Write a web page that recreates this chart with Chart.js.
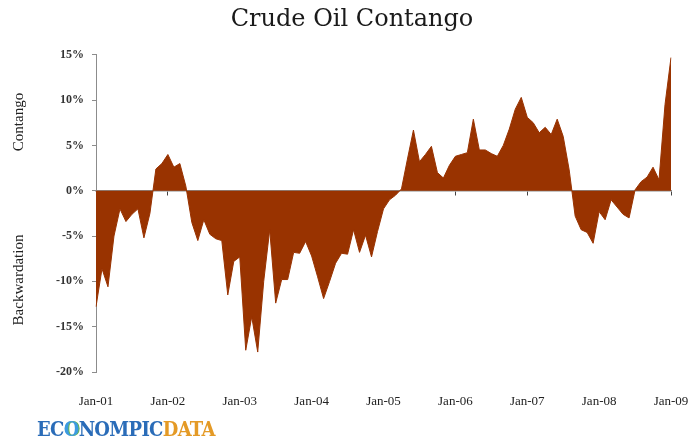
<!DOCTYPE html>
<html>
<head>
<meta charset="utf-8">
<script src="https://cdn.jsdelivr.net/npm/chart.js@4/dist/chart.umd.min.js"></script>
<style>
  body { margin: 0; background: #fff; }
  #contenedor { position: relative; width: 694px; height: 445px; }
  #logo {
    position: absolute; left: 37px; top: 418px;
    font-family: "DejaVu Serif Condensed", "DejaVu Serif", serif;
    font-weight: bold; font-size: 20px; line-height: 22px; letter-spacing: -0.7px;
    color: #2a6cb8;
  }
  #logo .globo { color: #3d9be0; text-shadow: 1px 0 0 #6bb84a; }
  #logo .data { color: #e49a26; }
</style>
</head>
<body>
<div id="contenedor">
  <canvas id="graficoContango" width="694" height="445"></canvas>
  <div id="logo">EC<span class="globo">O</span>NOMPIC<span class="data">DATA</span></div>
</div>
<script>
// Datos: contango mensual (%), ene-2001 a ene-2009
const anios = ['01', '02', '03', '04', '05', '06', '07', '08', '09'];
const meses = ['Jan', 'Feb', 'Mar', 'Apr', 'May', 'Jun', 'Jul', 'Aug', 'Sep', 'Oct', 'Nov', 'Dec'];
const etiquetasEje = ['Jan-01', 'Jan-02', 'Jan-03', 'Jan-04', 'Jan-05', 'Jan-06', 'Jan-07', 'Jan-08', 'Jan-09'];
const valoresContango = [
  -12.8, -8.6, -10.6, -5.0, -2.0, -3.4, -2.6, -2.0, -5.2, -2.5, 2.4, 3.0,
  4.0, 2.6, 3.0, 0.5, -3.5, -5.5, -3.2, -4.8, -5.3, -5.5, -11.5, -7.8,
  -7.3, -17.6, -13.9, -17.8, -10.0, -4.3, -12.4, -9.8, -9.8, -6.8, -6.9, -5.6,
  -7.2, -9.5, -11.9, -10.0, -8.0, -6.9, -7.0, -4.3, -6.8, -4.9, -7.3, -4.5,
  -2.0, -1.0, -0.5, 0.2, 3.5, 6.7, 3.2, 4.0, 4.9, 2.0, 1.4, 2.8,
  3.8, 4.0, 4.2, 7.9, 4.5, 4.5, 4.1, 3.8, 5.0, 6.8, 9.0, 10.3,
  8.1, 7.5, 6.4, 7.0, 6.2, 7.9, 6.0, 2.3, -2.8, -4.3, -4.6, -5.8,
  -2.3, -3.2, -1.0, -1.8, -2.6, -3.0, 0.1, 1.0, 1.5, 2.6, 1.2, 9.5,
  14.7
];

// categorias mensuales: Jan-01 ... Dec-08, Jan-09
const categorias = [];
anios.forEach((anio, i) => {
  meses.forEach((mes, j) => {
    if (i < anios.length - 1 || j === 0) categorias.push(mes + '-' + anio);
  });
});

const colorArea = '#993300';
const colorEje = '#8c8c8c';

// titulos del eje vertical (dos textos separados)
const titulosEjeY = {
  id: 'titulosEjeY',
  afterDraw(chart) {
    const ctx = chart.ctx;
    ctx.save();
    ctx.fillStyle = '#222';
    ctx.font = '15px "Liberation Serif", serif';
    ctx.textAlign = 'center';
    ctx.textBaseline = 'middle';
    [['Contango', 122], ['Backwardation', 280]].forEach(([texto, y]) => {
      ctx.save();
      ctx.translate(19, y);
      ctx.rotate(-Math.PI / 2);
      ctx.fillText(texto, 0, 0);
      ctx.restore();
    });
    ctx.restore();
  }
};

const configuracion = {
  type: 'line',
  data: {
    labels: categorias,
    datasets: [{
      data: valoresContango,
      backgroundColor: colorArea,
      borderColor: colorArea,
      borderWidth: 1,
      fill: 'origin',
      pointRadius: 0,
      tension: 0
    }]
  },
  options: {
    responsive: false,
    animation: false,
    layout: { padding: { left: 33, right: 23, top: 0, bottom: 0 } },
    plugins: {
      legend: { display: false },
      tooltip: { enabled: false },
      title: {
        display: true,
        text: 'Crude Oil Contango',
        color: '#1a1a1a',
        font: { family: '"DejaVu Serif", serif', size: 24, weight: 'normal' },
        padding: { top: 5, bottom: 21 }
      }
    },
    scales: {
      y: {
        min: -20,
        max: 15,
        ticks: {
          stepSize: 5,
          padding: 8,
          color: '#333',
          font: { family: '"Liberation Serif", serif', size: 12, weight: 'bold' },
          callback: v => v + '%'
        },
        grid: { drawOnChartArea: false, drawTicks: true, tickLength: 4, color: colorEje },
        border: { color: colorEje },
        afterFit: s => { s.width = 63; }
      },
      // eje en 0% con marcas en cada enero
      x: {
        position: { y: 0 },
        z: 1,
        ticks: { display: false, autoSkip: false },
        grid: {
          drawOnChartArea: false,
          drawTicks: true,
          tickLength: 4,
          color: c => (c.index % 12 === 0 ? '#444' : 'rgba(0,0,0,0)')
        },
        border: { color: colorEje, width: 1.5 },
        afterFit: s => { s.height = 0; }
      },
      // etiquetas de fecha abajo
      x2: {
        type: 'category',
        labels: categorias,
        position: 'bottom',
        grid: { display: false },
        border: { display: false },
        ticks: {
          autoSkip: false,
          maxRotation: 0,
          padding: 14,
          color: '#222',
          font: { family: '"Liberation Serif", serif', size: 13 },
          callback: (v, i) => (i % 12 === 0 ? etiquetasEje[i / 12] : null)
        },
        afterFit: s => {
          s.height = 73;
          s.paddingLeft = 0;
          s.paddingRight = 0;
        }
      }
    }
  },
  plugins: [titulosEjeY]
};

new Chart(document.getElementById('graficoContango'), configuracion);
</script>
</body>
</html>
